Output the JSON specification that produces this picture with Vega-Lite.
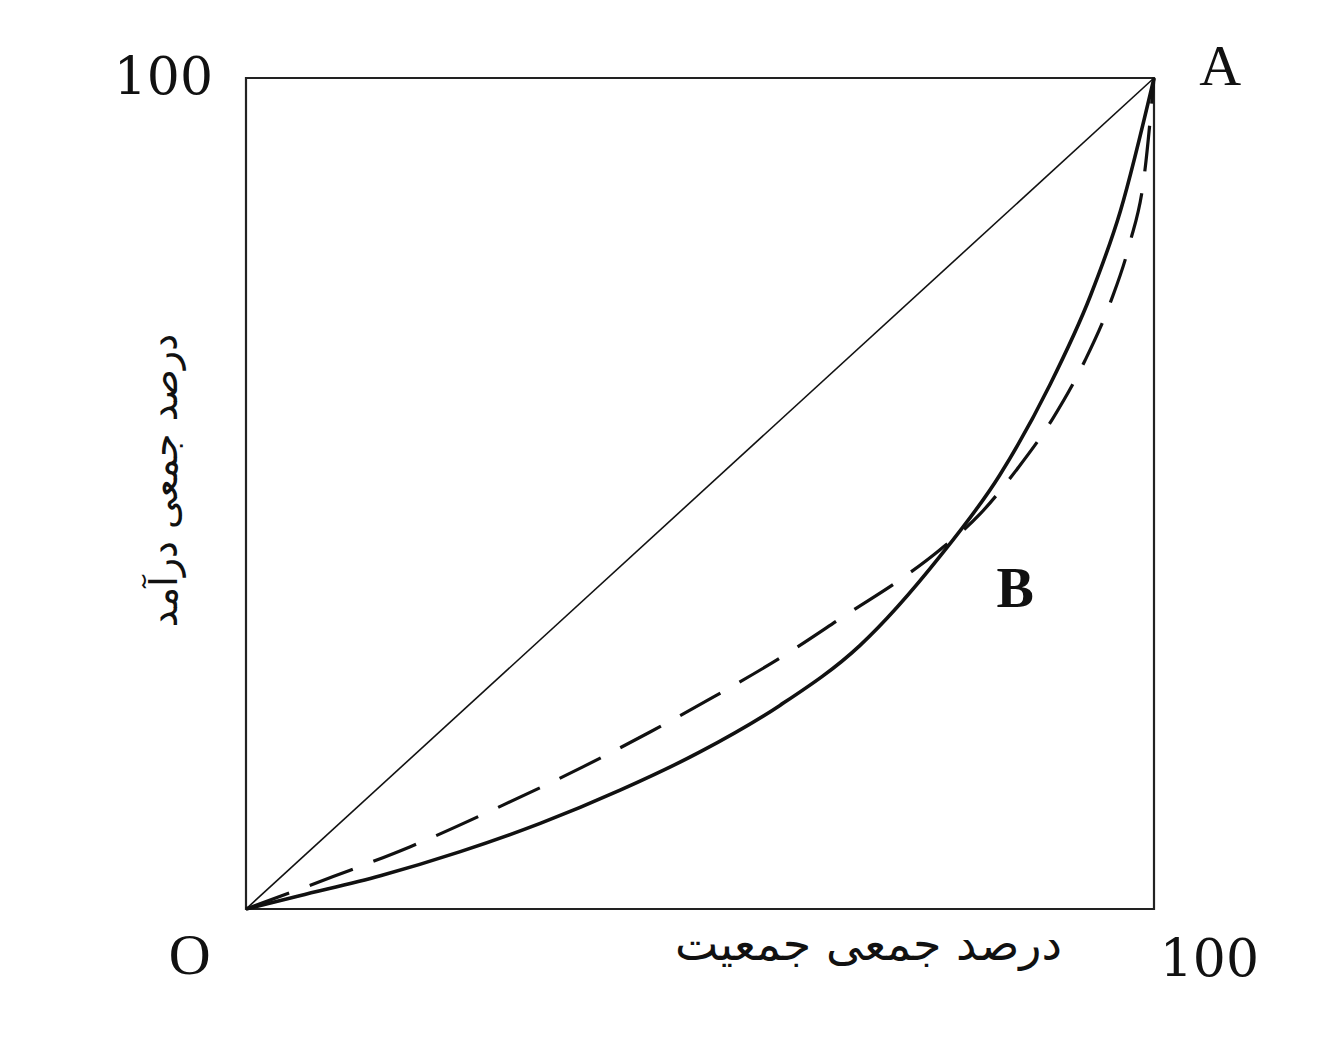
{
  "$schema": "https://vega.github.io/schema/vega-lite/v6.json",
  "width": 908,
  "height": 831,
  "autosize": {"type": "none"},
  "padding": {"left": 246, "top": 78, "right": 174, "bottom": 143},
  "background": "white",
  "config": {"view": {"stroke": "#222222", "strokeWidth": 2.2}},
  "datasets": {
    "curves": [
      {"series": "equality", "x": 0, "y": 0},
      {"series": "equality", "x": 100, "y": 100},
      {"series": "solid", "x": 0, "y": 0},
      {"series": "solid", "x": 5.9, "y": 1.6},
      {"series": "solid", "x": 14.8, "y": 4.0},
      {"series": "solid", "x": 23.6, "y": 6.9},
      {"series": "solid", "x": 32.4, "y": 10.3},
      {"series": "solid", "x": 41.2, "y": 14.3},
      {"series": "solid", "x": 50.0, "y": 18.9},
      {"series": "solid", "x": 58.8, "y": 24.5},
      {"series": "solid", "x": 67.6, "y": 31.7},
      {"series": "solid", "x": 76.4, "y": 42.4},
      {"series": "solid", "x": 83.0, "y": 52.2},
      {"series": "solid", "x": 88.5, "y": 63.0},
      {"series": "solid", "x": 93.0, "y": 73.8},
      {"series": "solid", "x": 96.3, "y": 84.0},
      {"series": "solid", "x": 100, "y": 100},
      {"series": "dashed", "x": 0, "y": 0},
      {"series": "dashed", "x": 9.6, "y": 3.9},
      {"series": "dashed", "x": 18.1, "y": 7.5},
      {"series": "dashed", "x": 28.3, "y": 12.5},
      {"series": "dashed", "x": 37.1, "y": 17.1},
      {"series": "dashed", "x": 44.5, "y": 21.3},
      {"series": "dashed", "x": 51.3, "y": 25.4},
      {"series": "dashed", "x": 59.4, "y": 30.6},
      {"series": "dashed", "x": 66.5, "y": 35.7},
      {"series": "dashed", "x": 72.0, "y": 39.6},
      {"series": "dashed", "x": 76.4, "y": 43.2},
      {"series": "dashed", "x": 80.9, "y": 47.6},
      {"series": "dashed", "x": 84.9, "y": 52.9},
      {"series": "dashed", "x": 88.9, "y": 59.1},
      {"series": "dashed", "x": 92.4, "y": 66.0},
      {"series": "dashed", "x": 95.2, "y": 73.0},
      {"series": "dashed", "x": 97.3, "y": 80.0},
      {"series": "dashed", "x": 98.9, "y": 88.0},
      {"series": "dashed", "x": 100, "y": 100}
    ],
    "numbers": [
      {"label": "100", "x": -9.1, "y": 100},
      {"label": "100", "x": 106.1, "y": -6.1}
    ],
    "letters": [
      {"label": "A", "x": 107.3, "y": 101.2},
      {"label": "O", "x": -6.2, "y": -5.8}
    ],
    "points": [
      {"label": "B", "x": 84.7, "y": 38.4}
    ]
  },
  "encoding": {
    "x": {
      "field": "x", "type": "quantitative",
      "scale": {"domain": [0, 100], "nice": false},
      "axis": {
        "title": "درصد جمعی جمعیت",
        "titleFont": "DejaVu Sans", "titleFontSize": 46, "titleFontWeight": "normal",
        "titleColor": "#111111",
        "titleX": 622, "titleY": 36, "titleBaseline": "middle", "titleAlign": "center",
        "domain": false, "ticks": false, "labels": false, "grid": false
      }
    },
    "y": {
      "field": "y", "type": "quantitative",
      "scale": {"domain": [0, 100], "nice": false},
      "axis": {
        "title": "درصد جمعی درآمد",
        "titleFont": "DejaVu Sans", "titleFontSize": 38, "titleFontWeight": "normal",
        "titleColor": "#111111",
        "titleX": -81, "titleY": 402, "titleBaseline": "middle", "titleAlign": "center", "titleAngle": -90,
        "domain": false, "ticks": false, "labels": false, "grid": false
      }
    }
  },
  "layer": [
    {
      "data": {"name": "curves"},
      "transform": [{"filter": "datum.series === 'equality'"}],
      "mark": {"type": "line", "color": "#111111", "strokeWidth": 1.6}
    },
    {
      "data": {"name": "curves"},
      "transform": [{"filter": "datum.series === 'solid'"}],
      "mark": {"type": "line", "color": "#111111", "strokeWidth": 3.6, "interpolate": "monotone"}
    },
    {
      "data": {"name": "curves"},
      "transform": [{"filter": "datum.series === 'dashed'"}],
      "mark": {"type": "line", "color": "#111111", "strokeWidth": 3.2, "interpolate": "monotone", "strokeDash": [46, 22]}
    },
    {
      "data": {"name": "numbers"},
      "mark": {"type": "text", "font": "DejaVu Serif", "fontSize": 52, "color": "#111111", "baseline": "middle", "align": "center"},
      "encoding": {"text": {"field": "label"}}
    },
    {
      "data": {"name": "letters"},
      "mark": {"type": "text", "font": "Liberation Serif", "fontSize": 58, "color": "#111111", "baseline": "middle", "align": "center"},
      "encoding": {"text": {"field": "label"}}
    },
    {
      "data": {"name": "points"},
      "mark": {"type": "text", "font": "Liberation Serif", "fontSize": 56, "fontWeight": "bold", "color": "#111111", "baseline": "middle", "align": "center"},
      "encoding": {"text": {"field": "label"}}
    }
  ]
}
